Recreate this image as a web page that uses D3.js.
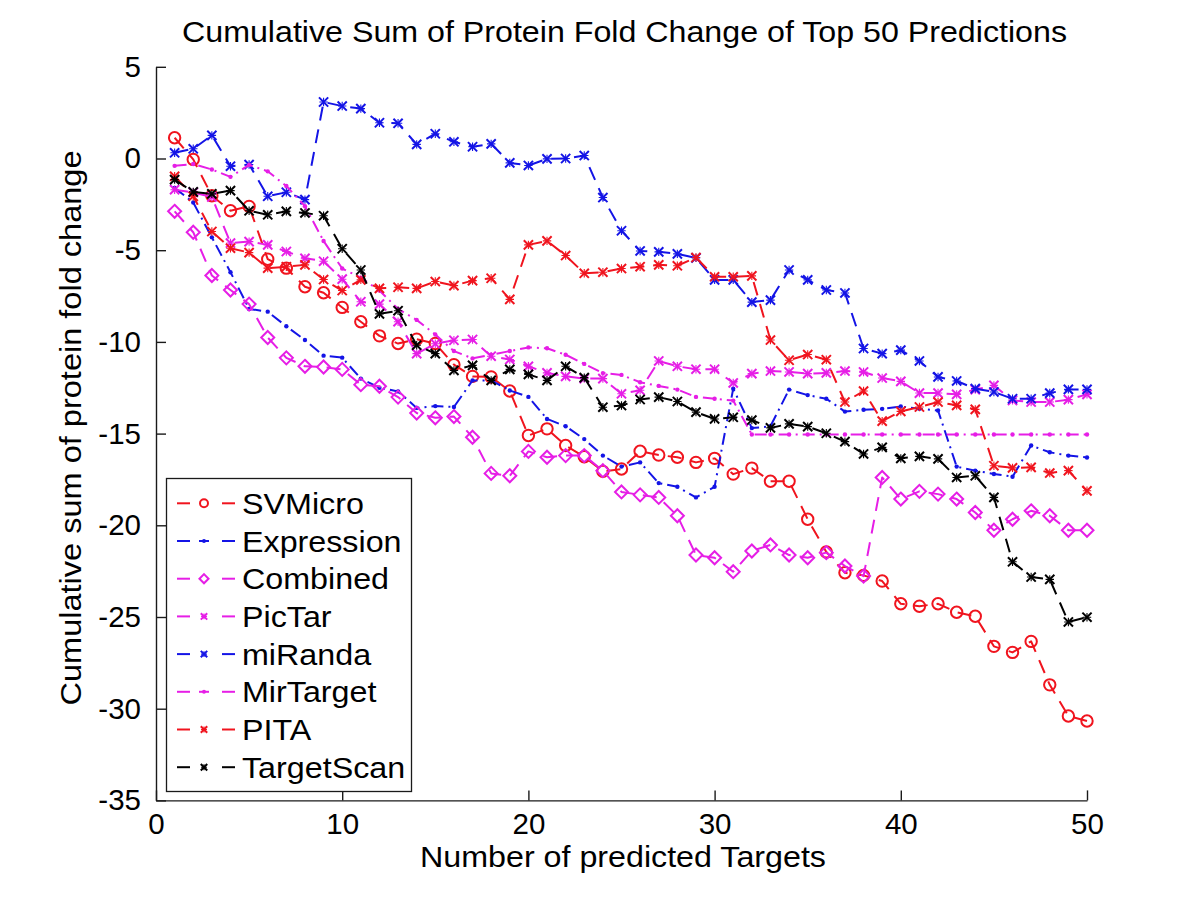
<!DOCTYPE html>
<html><head><meta charset="utf-8">
<script src="https://cdn.jsdelivr.net/npm/d3@7"></script>
<style>
body{margin:0;background:#fff}
svg{display:block}
text{font-family:"Liberation Sans",Arial,Helvetica,sans-serif;fill:#000}
</style>
</head><body>
<svg id="chart" width="1200" height="900"></svg>
<script>
// ---------- data ----------
const targets = d3.range(1, 51);
const xTicks = [0, 10, 20, 30, 40, 50];
const yTicks = [5, 0, -5, -10, -15, -20, -25, -30, -35];

const svMicro = [1.13,-0.05,-2.03,-2.85,-2.61,-5.49,-5.98,-6.99,-7.32,-8.12,-8.9,-9.67,-10.09,-9.85,-10.09,-11.24,-11.88,-11.91,-12.68,-15.1,-14.74,-15.65,-16.26,-17.06,-16.93,-15.96,-16.17,-16.29,-16.57,-16.35,-17.21,-16.88,-17.6,-17.6,-19.67,-21.45,-22.59,-22.73,-23.04,-24.28,-24.41,-24.28,-24.74,-24.96,-26.6,-26.93,-26.33,-28.7,-30.4,-30.67];
const expression = [-1.6,-2.4,-4.3,-6.2,-8.2,-8.35,-9.15,-9.9,-10.75,-10.86,-12.0,-12.5,-12.7,-13.6,-13.5,-13.55,-12.1,-12.1,-12.65,-13.0,-14.2,-14.6,-15.3,-16.2,-16.8,-16.57,-17.7,-17.9,-18.48,-17.9,-12.55,-14.7,-14.6,-12.6,-12.9,-13.1,-13.8,-13.7,-13.65,-13.52,-13.65,-13.74,-16.8,-17.02,-17.2,-17.35,-15.65,-16.02,-16.2,-16.3];
const combined = [-2.88,-4.02,-6.38,-7.17,-7.94,-9.76,-10.87,-11.33,-11.37,-11.5,-12.33,-12.42,-13.01,-13.88,-14.14,-14.07,-15.2,-17.17,-17.3,-15.97,-16.29,-16.2,-16.2,-17.02,-18.18,-18.34,-18.48,-19.48,-21.62,-21.77,-22.53,-21.4,-21.07,-21.62,-21.77,-21.49,-22.22,-22.77,-17.39,-18.57,-18.15,-18.3,-18.57,-19.3,-20.27,-19.67,-19.21,-19.48,-20.27,-20.27];
const picTar = [-1.7,-1.85,-2.1,-4.61,-4.53,-4.71,-5.07,-5.44,-5.6,-6.58,-7.81,-7.94,-8.9,-10.64,-10.1,-9.91,-9.87,-10.78,-10.96,-11.33,-11.69,-11.88,-12.0,-12.0,-12.83,-12.64,-11.04,-11.33,-11.49,-11.49,-12.24,-11.73,-11.59,-11.64,-11.73,-11.69,-11.59,-11.64,-11.97,-12.15,-12.79,-12.79,-12.86,-12.6,-12.37,-13.19,-13.28,-13.28,-13.15,-12.86];
const miRanda = [0.31,0.53,1.26,-0.42,-0.33,-2.06,-1.84,-2.24,3.08,2.86,2.72,1.95,1.92,0.77,1.35,0.91,0.64,0.8,-0.24,-0.38,-0.02,0,0.16,-2.13,-3.94,-5.04,-5.09,-5.2,-5.42,-6.62,-6.62,-7.83,-7.72,-6.08,-6.62,-7.17,-7.33,-10.36,-10.64,-10.45,-11.04,-11.91,-12.13,-12.55,-12.73,-13.1,-13.1,-12.79,-12.59,-12.59];
const mirTarget = [-0.4,-0.3,-0.6,-1.0,-0.35,-0.7,-1.5,-2.6,-4.5,-6.0,-6.5,-7.2,-8.2,-8.8,-9.6,-10.5,-10.9,-10.7,-10.5,-10.3,-10.35,-10.7,-11.2,-11.7,-11.8,-12.2,-12.4,-12.6,-13.0,-13.1,-13.2,-15.05,-15.05,-15.05,-15.05,-15.05,-15.05,-15.05,-15.05,-15.05,-15.05,-15.05,-15.05,-15.05,-15.05,-15.05,-15.05,-15.05,-15.05,-15.05];
const pita = [-0.97,-2.06,-3.98,-4.89,-5.13,-5.98,-5.9,-5.8,-6.6,-7.2,-6.62,-7.08,-7.02,-7.08,-6.71,-6.93,-6.66,-6.53,-7.68,-4.71,-4.49,-5.29,-6.26,-6.2,-6.0,-5.9,-5.8,-5.85,-5.4,-6.45,-6.45,-6.4,-9.9,-11.0,-10.69,-10.97,-13.28,-12.68,-14.32,-13.79,-13.55,-13.28,-13.46,-13.68,-16.75,-16.87,-16.84,-17.15,-17.02,-18.12];
const targetScan = [-1.15,-1.82,-1.93,-1.75,-2.85,-3.07,-2.88,-2.97,-3.12,-4.92,-6.08,-8.47,-8.3,-10.18,-10.64,-11.55,-11.28,-12.1,-11.5,-11.77,-12.1,-11.33,-11.95,-13.56,-13.47,-13.14,-13.01,-13.25,-13.83,-14.2,-14.11,-14.26,-14.69,-14.47,-14.62,-14.98,-15.44,-16.11,-15.75,-16.35,-16.24,-16.38,-17.39,-17.3,-18.48,-21.99,-22.82,-22.95,-25.27,-25.01];

const seriesNames = ["SVMicro","Expression","Combined","PicTar","miRanda","MirTarget","PITA","TargetScan"];
const seriesValues = [svMicro, expression, combined, picTar, miRanda, mirTarget, pita, targetScan];
const seriesColors = ["#f0141e","#1414e6","#e61ee6","#e61ee6","#1414e6","#e61ee6","#f0141e","#000000"];
const seriesStyles = ["dash","dashdot","dash","dash","dash","dashdot","dash","dash"];
const seriesMarkers = ["circle","point","diamond","star","star","point","star","star"];

const titleText = "Cumulative Sum of Protein Fold Change of Top 50 Predictions";
const xLabelText = "Number of predicted Targets";
const yLabelText = "Cumulative sum of protein fold change";

// ---------- layout ----------
const svg = d3.select("#chart");
const x = d3.scaleLinear().domain([0, 50]).range([156, 1087]);
const y = d3.scaleLinear().domain([-35, 5]).range([800.4, 66.8]);
const dashes = {dash: "14,9", dashdot: "12,5,2,5"};
const widen = 1.075; // reference glyphs are a little wider than Liberation Sans

function stretch(sel, factor, target) {
  sel.each(function() {
    const len = this.getComputedTextLength();
    const w = target || len * factor;
    d3.select(this).attr("textLength", w).attr("lengthAdjust", "spacingAndGlyphs");
  });
}

svg.append("rect").attr("width",1200).attr("height",900).attr("fill","#fff");

// axes
const axisColor = "#1a1a1a";
const gx = svg.append("g").attr("transform", `translate(0,${y(-35)})`)
  .call(d3.axisBottom(x).tickValues(xTicks).tickSizeInner(-10).tickSizeOuter(0).tickPadding(12.5).tickFormat(d => String(d)));
const gy = svg.append("g").attr("transform", `translate(${x(0)},0)`)
  .call(d3.axisLeft(y).tickValues(yTicks).tickSizeInner(-10).tickSizeOuter(0).tickPadding(15).tickFormat(d => String(d)));
[gx, gy].forEach(g => {
  g.select(".domain").attr("stroke", axisColor).attr("stroke-width", 1.4);
  g.selectAll(".tick line").attr("stroke", axisColor).attr("stroke-width", 1.4);
  g.selectAll(".tick text").attr("font-size", 29.5).attr("fill", "#000")
    .style("font-family", '"Liberation Sans", Arial, sans-serif');
});

// markers
function drawMarker(g, type, cx, cy, color, scale) {
  const s = scale || 1;
  if (type === "circle") {
    g.append("circle").attr("cx", cx).attr("cy", cy).attr("r", 5.7 * s)
      .attr("fill", "none").attr("stroke", color).attr("stroke-width", 2);
  } else if (type === "diamond") {
    const a = 6.5 * s;
    g.append("path").attr("d", `M${cx},${cy - a}L${cx + a},${cy}L${cx},${cy + a}L${cx - a},${cy}Z`)
      .attr("fill", "none").attr("stroke", color).attr("stroke-width", 2);
  } else if (type === "star") {
    const a = 4.2 * s, b = 4.6 * s;
    g.append("path").attr("d", `M${cx},${cy - a}L${cx},${cy + a}M${cx - a},${cy}L${cx + a},${cy}`)
      .attr("fill", "none").attr("stroke", color).attr("stroke-width", 1.1);
    g.append("path").attr("d", `M${cx - b},${cy - b}L${cx + b},${cy + b}M${cx - b},${cy + b}L${cx + b},${cy - b}`)
      .attr("fill", "none").attr("stroke", color).attr("stroke-width", 2);
  } else if (type === "point") {
    g.append("circle").attr("cx", cx).attr("cy", cy).attr("r", 2.2 * s).attr("fill", color);
  }
}

// series
const line = d3.line().x((d, i) => x(targets[i])).y(d => y(d));
seriesNames.forEach((name, k) => {
  const g = svg.append("g").attr("class", "series");
  g.append("path").datum(seriesValues[k]).attr("d", line)
    .attr("fill", "none").attr("stroke", seriesColors[k]).attr("stroke-width", 2)
    .attr("stroke-dasharray", dashes[seriesStyles[k]]).attr("stroke-linejoin", "round");
  seriesValues[k].forEach((v, i) => drawMarker(g, seriesMarkers[k], x(targets[i]), y(v), seriesColors[k]));
});

// legend
const lg = svg.append("g");
lg.append("rect").attr("x", 166.5).attr("y", 478.5).attr("width", 245).attr("height", 313)
  .attr("fill", "#fff").attr("stroke", "#1a1a1a").attr("stroke-width", 1.3);
seriesNames.forEach((name, k) => {
  const cy = 503.3 + k * 37.7;
  const c = seriesColors[k];
  lg.append("line").attr("x1", 177).attr("x2", 190).attr("y1", cy).attr("y2", cy).attr("stroke", c).attr("stroke-width", 2);
  lg.append("line").attr("x1", 222).attr("x2", 235).attr("y1", cy).attr("y2", cy).attr("stroke", c).attr("stroke-width", 2);
  if (seriesStyles[k] === "dashdot") {
    lg.append("line").attr("x1", 199).attr("x2", 209).attr("y1", cy).attr("y2", cy).attr("stroke", c).attr("stroke-width", 2);
  }
  drawMarker(lg, seriesMarkers[k], 204, cy, c, seriesMarkers[k] === "point" ? 0.9 : 0.7);
  const t = lg.append("text").attr("x", 242).attr("y", cy + 10.5).attr("font-size", 30).text(name);
  stretch(t, widen);
});

// titles
const tt = svg.append("text").attr("x", 624.5).attr("y", 42).attr("text-anchor", "middle").attr("font-size", 30).text(titleText);
stretch(tt, 1, 885);
const xl = svg.append("text").attr("x", 623).attr("y", 867).attr("text-anchor", "middle").attr("font-size", 29.5).text(xLabelText);
stretch(xl, 1, 406);
const yl = svg.append("text").attr("transform", "translate(81,428) rotate(-90)").attr("text-anchor", "middle").attr("font-size", 30).text(yLabelText);
stretch(yl, 1, 555);
</script>
</body></html>
